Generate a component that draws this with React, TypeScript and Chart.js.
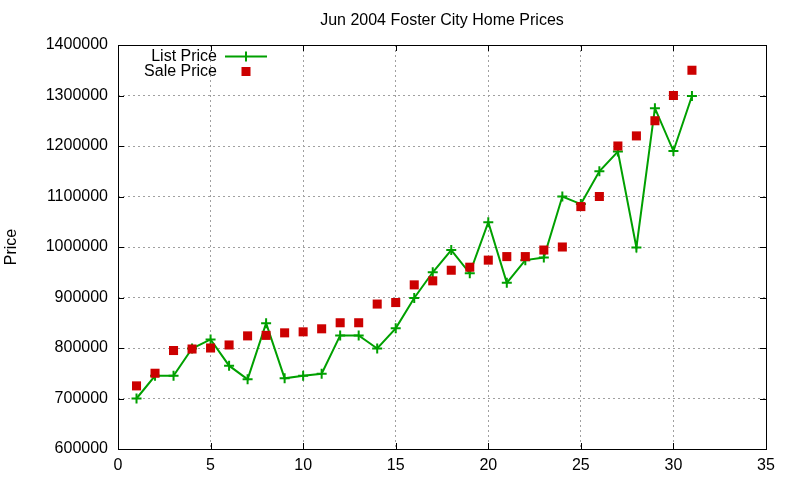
import React, { useRef, useEffect } from 'react';
import { Chart, registerables } from 'chart.js';
import type { Plugin } from 'chart.js';

Chart.register(...registerables);

// days of June 2004
const days: number[] = [
    1, 2, 3, 4, 5, 6, 7, 8, 9, 10, 11, 12, 13, 14, 15, 16,
    17, 18, 19, 20, 21, 22, 23, 24, 25, 26, 27, 28, 29, 30, 31
];

const listPrice: number[] = [
    700000, 745000, 745000, 799000, 817000, 765000, 738000, 849000, 740000, 745000, 749000,
    825000, 825000, 799000, 839000, 899000, 950000, 994000, 948000, 1049000, 929000,
    974000, 979000, 1100000, 1085000, 1150000, 1189000, 999000, 1275000, 1190000, 1299000
];

const salePrice: number[] = [
    725000, 750000, 795000, 798000, 800000, 806000, 824000, 825000, 830000, 832000, 838000,
    850000, 850000, 887000, 890000, 925000, 933000, 954000, 960000, 974000, 981000,
    981000, 994000, 1000000, 1080000, 1100000, 1200000, 1220000, 1250000, 1300000, 1350000
];

const xTicks: number[] = [0, 5, 10, 15, 20, 25, 30, 35];
const yTicks: number[] = [600000, 700000, 800000, 900000, 1000000, 1100000, 1200000, 1300000, 1400000];

const titleText = 'Jun 2004 Foster City Home Prices';
const yLabel = 'Price';

const FONT = '16px "Liberation Sans", Arial, sans-serif';
const GREEN = '#00a000';
const RED = '#cc0000';

// frame, inward ticks, title, y label and gnuplot-style legend
const gnuplotDecor: Plugin<'line'> = {
    id: 'gnuplotDecor',
    afterDraw(chart: any) {
        const ctx = chart.ctx;
        const { left, right, top, bottom } = chart.chartArea;
        const xs = chart.scales.x;
        const ys = chart.scales.y;
        ctx.save();

        // box
        ctx.strokeStyle = '#000';
        ctx.lineWidth = 1;
        ctx.setLineDash([]);
        ctx.strokeRect(Math.round(left) + 0.5, Math.round(top) + 0.5, Math.round(right - left), Math.round(bottom - top));

        // inward ticks on all sides
        const tl = 6;
        ctx.beginPath();
        xTicks.forEach(v => {
            const px = Math.round(xs.getPixelForValue(v)) + 0.5;
            ctx.moveTo(px, bottom); ctx.lineTo(px, bottom - tl);
            ctx.moveTo(px, top); ctx.lineTo(px, top + tl);
        });
        yTicks.forEach(v => {
            const py = Math.round(ys.getPixelForValue(v)) + 0.5;
            ctx.moveTo(left, py); ctx.lineTo(left + tl, py);
            ctx.moveTo(right, py); ctx.lineTo(right - tl, py);
        });
        ctx.stroke();

        ctx.fillStyle = '#000';
        ctx.font = FONT;

        // title
        ctx.textAlign = 'center';
        ctx.textBaseline = 'middle';
        ctx.fillText(titleText, (left + right) / 2, 21);

        // y axis label
        ctx.save();
        ctx.translate(12, (top + bottom) / 2);
        ctx.rotate(-Math.PI / 2);
        ctx.fillText(yLabel, 0, 0);
        ctx.restore();

        // legend
        const keyX = left + 99;
        const sampleL = left + 107;
        const sampleR = left + 149;
        const sampleC = (sampleL + sampleR) / 2;
        const row1 = top + 10;
        const row2 = top + 25;
        ctx.textAlign = 'right';
        ctx.fillText('List Price', keyX, row1 + 1.5);
        ctx.fillText('Sale Price', keyX, row2 + 1.5);

        ctx.strokeStyle = GREEN;
        ctx.lineWidth = 2;
        ctx.beginPath();
        ctx.moveTo(sampleL, row1 + 1.5); ctx.lineTo(sampleR, row1 + 1.5);
        ctx.moveTo(sampleC, row1 - 3.5); ctx.lineTo(sampleC, row1 + 6.5);
        ctx.stroke();

        ctx.fillStyle = RED;
        ctx.fillRect(sampleC - 4.5, row2 - 3, 9, 9);

        ctx.restore();
    }
};

const App: React.FC = () => {
    const canvasRef = useRef<HTMLCanvasElement | null>(null);

    useEffect(() => {
        const ctx = canvasRef.current?.getContext('2d');
        if (!ctx) return;

        const chart = new Chart(ctx, {
            type: 'line',
            data: {
                datasets: [
                    {
                        label: 'Sale Price',
                        data: days.map((d, i) => ({ x: d, y: salePrice[i] })),
                        showLine: false,
                        pointStyle: 'rect',
                        pointRadius: 6.4,
                        pointBorderWidth: 0,
                        pointBackgroundColor: RED,
                        pointBorderColor: RED,
                        order: 0
                    },
                    {
                        label: 'List Price',
                        data: days.map((d, i) => ({ x: d, y: listPrice[i] })),
                        borderColor: GREEN,
                        borderWidth: 2,
                        tension: 0,
                        pointStyle: 'cross',
                        pointRadius: 5,
                        pointBorderWidth: 2,
                        pointBorderColor: GREEN,
                        pointBackgroundColor: GREEN,
                        order: 1
                    }
                ]
            },
            options: {
                responsive: false,
                animation: false,
                devicePixelRatio: 1,
                layout: { padding: { left: 0, top: 45, right: 34, bottom: 0 } },
                plugins: {
                    legend: { display: false },
                    title: { display: false },
                    tooltip: { enabled: false }
                },
                scales: {
                    x: {
                        type: 'linear',
                        min: 0,
                        max: 35,
                        afterFit: (s: any) => { s.height = 31; },
                        afterBuildTicks: (s: any) => { s.ticks = xTicks.map(v => ({ value: v })); },
                        grid: { color: '#a0a0a0', lineWidth: 1, drawTicks: false },
                        border: { display: false, dash: [2, 3] },
                        ticks: {
                            padding: 7,
                            color: '#000',
                            font: { family: '"Liberation Sans", Arial, sans-serif', size: 16 }
                        }
                    },
                    y: {
                        type: 'linear',
                        min: 600000,
                        max: 1400000,
                        afterFit: (s: any) => { s.width = 118; },
                        afterBuildTicks: (s: any) => { s.ticks = yTicks.map(v => ({ value: v })); },
                        grid: { color: '#a0a0a0', lineWidth: 1, drawTicks: false },
                        border: { display: false, dash: [2, 3] },
                        ticks: {
                            padding: 10,
                            color: '#000',
                            font: { family: '"Liberation Sans", Arial, sans-serif', size: 16 },
                            callback: (v: any) => String(v)
                        }
                    }
                }
            },
            plugins: [gnuplotDecor]
        });

        return () => chart.destroy();
    }, []);

    return (
        <div style={{ position: 'fixed', left: 0, top: 0, width: 800, height: 480, background: '#fff' }}>
            <canvas ref={canvasRef} width={800} height={480} />
        </div>
    );
};

export default App;
